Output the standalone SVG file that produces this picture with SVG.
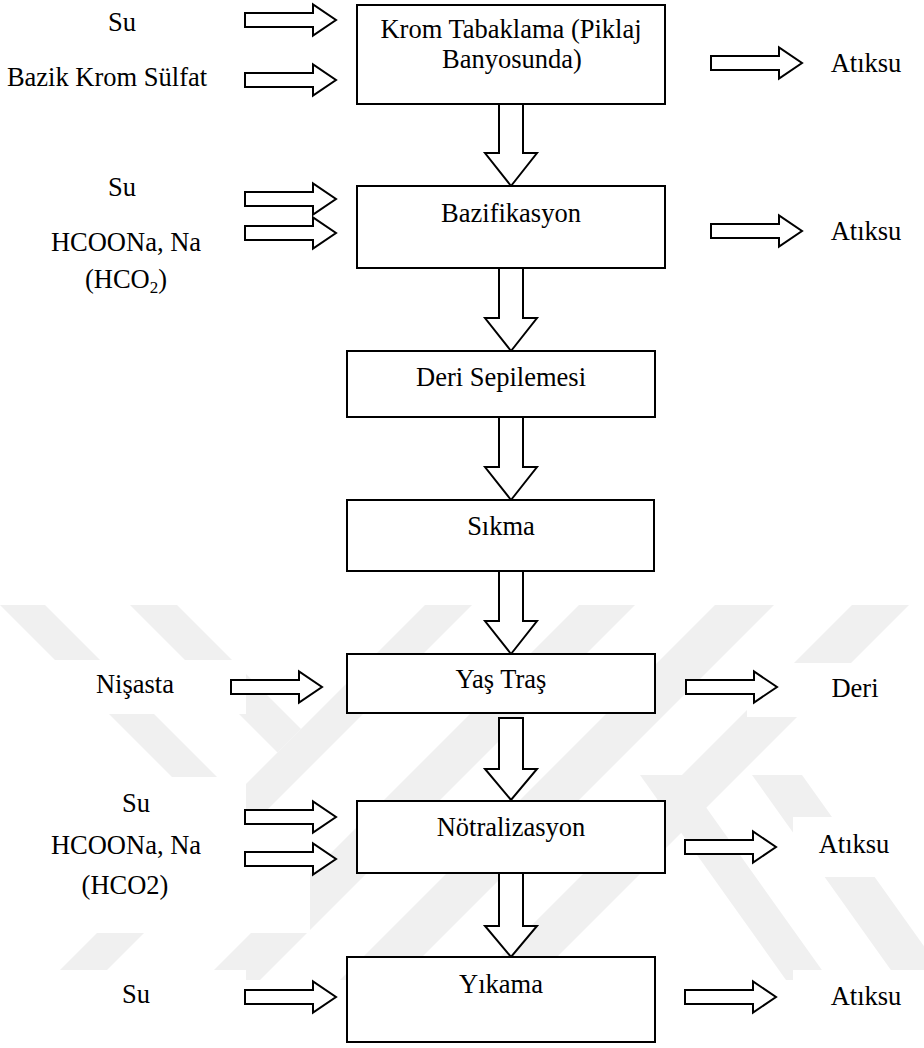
<svg xmlns="http://www.w3.org/2000/svg" xmlns:xlink="http://www.w3.org/1999/xlink" width="924" height="1048" viewBox="0 0 924 1048">
<style>
.t{font-family:'Liberation Serif','Times New Roman',serif;font-size:26.5px;fill:#000;text-anchor:middle}
.box{fill:#fff;stroke:#000;stroke-width:2}
.arr{fill:#fff;stroke:#000;stroke-width:2;stroke-linejoin:miter}
.wm{fill:#f0f0f0}
.wb{fill:#fff}
</style>
<defs>
<path id="harrow" d="M0,-7 H68 V-15.5 L91,0 L68,15.5 V7 H0 Z"/>
<clipPath id="wmclip"><rect x="0" y="605" width="924" height="375"/></clipPath>
</defs>
<rect width="924" height="1048" fill="#fff"/>
<g id="watermark" clip-path="url(#wmclip)">
<polygon class="wm" points="0,605 45,605 235,795 212.5,817.5"/>
<polygon class="wm" points="130,605 177,605 301,729 277.5,752.5"/>
<polygon class="wm" points="425,605 472,605 97,980 50,980"/>
<polygon class="wm" points="579,605 635,605 260,980 204,980"/>
<polygon class="wm" points="715,605 774,605 399,980 340,980"/>
<polygon class="wm" points="852,605 909,605 534,980 477,980"/>
<polygon class="wm" points="640,775 683,775 829,980 786,980"/>
<polygon class="wm" points="752,775 802,775 948,980 898,980"/>
</g>
<g id="label-backgrounds">
<rect class="wb" x="0" y="660" width="246" height="54"/>
<rect class="wb" x="747" y="663" width="177" height="54"/>
<rect class="wb" x="0" y="777" width="246" height="156"/>
<rect class="wb" x="246" y="820" width="64" height="113"/>
<rect class="wb" x="793" y="817" width="131" height="60"/>
<rect class="wb" x="0" y="970" width="246" height="78"/>
<rect class="wb" x="793" y="970" width="131" height="78"/>
</g>
<g id="connectors">
<path class="arr" d="M499,104 H523 V153 H537 L511,186 L485,153 H499 Z"/>
<path class="arr" d="M499,268 H523 V318 H537 L511,351 L485,318 H499 Z"/>
<path class="arr" d="M499,417 H523 V467 H537 L511,500 L485,467 H499 Z"/>
<path class="arr" d="M499,571 H523 V621 H537 L511,654 L485,621 H499 Z"/>
<path class="arr" d="M499,718 H523 V769 H537 L511,800 L485,769 H499 Z"/>
<path class="arr" d="M499,873 H523 V926 H537 L511,957 L485,926 H499 Z"/>
<use class="arr" href="#harrow" xlink:href="#harrow" x="245" y="20"/>
<use class="arr" href="#harrow" xlink:href="#harrow" x="245" y="80"/>
<use class="arr" href="#harrow" xlink:href="#harrow" x="245" y="199"/>
<use class="arr" href="#harrow" xlink:href="#harrow" x="245" y="233"/>
<use class="arr" href="#harrow" xlink:href="#harrow" x="231" y="687"/>
<use class="arr" href="#harrow" xlink:href="#harrow" x="245" y="817"/>
<use class="arr" href="#harrow" xlink:href="#harrow" x="245" y="859"/>
<use class="arr" href="#harrow" xlink:href="#harrow" x="245" y="997"/>
<use class="arr" href="#harrow" xlink:href="#harrow" x="711" y="63"/>
<use class="arr" href="#harrow" xlink:href="#harrow" x="711" y="231"/>
<use class="arr" href="#harrow" xlink:href="#harrow" x="686" y="687"/>
<use class="arr" href="#harrow" xlink:href="#harrow" x="685" y="847"/>
<use class="arr" href="#harrow" xlink:href="#harrow" x="685" y="997"/>
</g>
<g id="node-krom">
<rect class="box" x="357" y="5" width="308" height="99"/>
<text class="t" x="511" y="38">Krom Tabaklama (Piklaj</text>
<text class="t" x="512" y="68">Banyosunda)</text>
</g>
<g id="node-bazifikasyon">
<rect class="box" x="357" y="186" width="308" height="82"/>
<text class="t" x="511" y="222">Bazifikasyon</text>
</g>
<g id="node-deri-sepilemesi">
<rect class="box" x="347" y="351" width="308" height="66"/>
<text class="t" x="501" y="386">Deri Sepilemesi</text>
</g>
<g id="node-sikma">
<rect class="box" x="347" y="500" width="307" height="71"/>
<text class="t" x="501" y="535">Sıkma</text>
</g>
<g id="node-yas-tras">
<rect class="box" x="347" y="654" width="308" height="59"/>
<text class="t" x="501" y="688">Yaş Traş</text>
</g>
<g id="node-notralizasyon">
<rect class="box" x="357" y="801" width="308" height="72"/>
<text class="t" x="511" y="836">Nötralizasyon</text>
</g>
<g id="node-yikama">
<rect class="box" x="347" y="957" width="308" height="85"/>
<text class="t" x="501" y="993">Yıkama</text>
</g>
<g id="inputs">
<text class="t" x="122" y="31">Su</text>
<text class="t" x="107" y="86">Bazik Krom Sülfat</text>
<text class="t" x="122" y="196">Su</text>
<text class="t" x="126" y="251">HCOONa, Na</text>
<text class="t" x="126" y="288">(HCO<tspan font-size="17" dy="5">2</tspan><tspan dy="-5">)</tspan></text>
<text class="t" x="135" y="693">Nişasta</text>
<text class="t" x="136" y="812">Su</text>
<text class="t" x="126" y="854">HCOONa, Na</text>
<text class="t" x="125" y="894">(HCO2)</text>
<text class="t" x="136" y="1003">Su</text>
</g>
<g id="outputs">
<text class="t" x="866" y="72">Atıksu</text>
<text class="t" x="866" y="240">Atıksu</text>
<text class="t" x="855" y="697">Deri</text>
<text class="t" x="854" y="853">Atıksu</text>
<text class="t" x="866" y="1005">Atıksu</text>
</g>
</svg>
